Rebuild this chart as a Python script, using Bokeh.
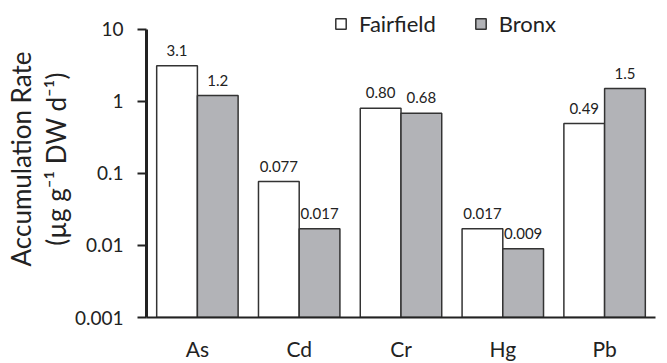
from bokeh.plotting import figure
from bokeh.models import (FactorRange, Range1d, ColumnDataSource, Legend, LegendItem,
                          Title, LabelSet)
from bokeh.core.properties import value
from bokeh.transform import dodge
from bokeh.embed import file_html
from bokeh.resources import INLINE

# Metal accumulation rates (µg g-1 DW d-1) at two sites
metals = ["As", "Cd", "Cr", "Hg", "Pb"]
fairfield = [3.1, 0.077, 0.80, 0.017, 0.49]
bronx = [1.2, 0.017, 0.68, 0.009, 1.5]
fairfield_labels = ["3.1", "0.077", "0.80", "0.017", "0.49"]
bronx_labels = ["1.2", "0.017", "0.68", "0.009", "1.5"]
y_ticks = [0.001, 0.01, 0.1, 1, 10]
y_tick_text = {0.001: "0.001", 0.01: "0.01", 0.1: "0.1", 1: "1", 10: "10"}

FONT = "Lato"
BASE = 0.001
Y_AXIS_MAX = 10

src = ColumnDataSource(dict(
    metal=metals, fair=fairfield, bronx=bronx,
    fair_lab=fairfield_labels, bronx_lab=bronx_labels,
    base=[BASE] * len(metals),
))

# frame reaches the top of the canvas so the legend has room above the axis end
p = figure(width=667, height=363, x_range=FactorRange(*metals, range_padding=0),
           y_range=Range1d(BASE, 25), y_axis_type="log",
           output_backend="svg", toolbar_location=None,
           min_border_left=146, min_border_right=12, min_border_top=0,
           min_border_bottom=42)
p.outline_line_color = None
p.xgrid.visible = False
p.ygrid.visible = False
p.background_fill_color = "white"

r_fair = p.vbar(x=dodge("metal", -0.2, range=p.x_range), top="fair", bottom="base",
                width=0.4, source=src, fill_color="white", line_color="#333333",
                line_width=1.5)
r_bronx = p.vbar(x=dodge("metal", 0.2, range=p.x_range), top="bronx", bottom="base",
                 width=0.4, source=src, fill_color="#b2b3b7", line_color="#333333",
                 line_width=1.5)

lab_style = dict(text_font=value(FONT), text_font_size="15px", text_color="#222222",
                 text_align="center", text_baseline="bottom", y_offset=10, source=src)
p.add_layout(LabelSet(x=dodge("metal", -0.2, range=p.x_range), y="fair", text="fair_lab",
                      **lab_style))
p.add_layout(LabelSet(x=dodge("metal", 0.2, range=p.x_range), y="bronx", text="bronx_lab",
                      **lab_style))

# y axis
ya = p.yaxis[0]
ya.bounds = (BASE, Y_AXIS_MAX)
ya.ticker = y_ticks
ya.major_label_overrides = y_tick_text
ya.major_label_text_font = FONT
ya.major_label_text_font_size = "19px"
ya.major_label_text_color = "#222222"
ya.major_tick_in = 0
ya.major_tick_out = 9
ya.minor_tick_in = 0
ya.minor_tick_out = 0
ya.major_tick_line_width = 2
ya.major_tick_line_color = "#222222"
ya.axis_line_width = 3
ya.axis_line_color = "#222222"
ya.major_label_standoff = 14
ya.axis_label = "(µg g⁻¹ DW d⁻¹)"
ya.axis_label_text_font = FONT
ya.axis_label_text_font_style = "normal"
ya.axis_label_text_font_size = "26px"
ya.axis_label_text_color = "#222222"
ya.axis_label_standoff = 0

p.add_layout(Title(text="Accumulation Rate", align="center", text_font=FONT,
                   text_font_size="26px", text_font_style="normal",
                   text_color="#222222", offset=0, standoff=0), "left")

# x axis
xa = p.xaxis[0]
xa.major_tick_in = 0
xa.major_tick_out = 0
xa.axis_line_width = 2
xa.axis_line_color = "#222222"
xa.major_label_text_font = FONT
xa.major_label_text_font_size = "21px"
xa.major_label_text_color = "#222222"
xa.major_label_standoff = 18

legend = Legend(items=[LegendItem(label="Fairfield", renderers=[r_fair]),
                       LegendItem(label="Bronx", renderers=[r_bronx])],
                orientation="horizontal", location=(188, 280),
                label_text_font=FONT, label_text_font_size="22px",
                label_text_color="#222222", glyph_width=13, glyph_height=13,
                label_standoff=12, spacing=38, padding=0, margin=0,
                border_line_color=None, background_fill_alpha=0)
p.add_layout(legend, "center")

open("out.html", "w").write(file_html(p, INLINE))
